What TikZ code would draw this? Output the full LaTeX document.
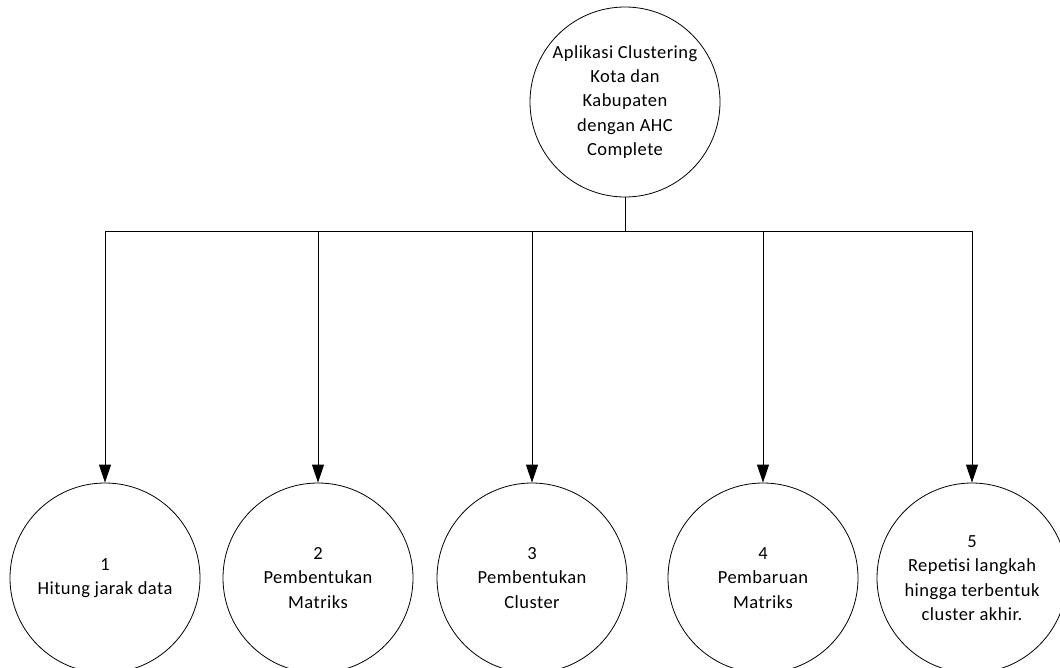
\documentclass[tikz,border=0pt]{standalone}
\usepackage{fontspec}
\setmainfont{Carlito}[LetterSpace=2.5]
\usetikzlibrary{arrows.meta}
\begin{document}
\begin{tikzpicture}[x=1pt,y=-1pt,
  proc/.style={draw, circle, minimum size=190pt, inner sep=0pt, line width=0.8pt,
    align=center, font=\fontsize{18.5}{24.3}\selectfont},
  link/.style={line width=0.9pt},
  arr/.style={link, -{Triangle[length=18pt,width=12pt]}}]
\useasboundingbox (0,0) rectangle (1060,667);
\clip (0,0) rectangle (1060,667);
\node[proc] (top) at (625,102) {Aplikasi Clustering\\Kota dan\\Kabupaten\\dengan AHC\\Complete};
\node[proc] (p1) at (105,578) {1\\Hitung jarak data};
\node[proc] (p2) at (318,578) {2\\Pembentukan\\Matriks};
\node[proc] (p3) at (532,578) {3\\Pembentukan\\Cluster};
\node[proc] (p4) at (763,578) {4\\Pembaruan\\Matriks};
\node[proc] (p5) at (972,578) {5\\Repetisi langkah\\hingga terbentuk\\cluster akhir.};
\coordinate (bus) at (625,231);
\draw[link] (top.south) -- (bus);
\foreach \n in {p1,p2,p3,p4,p5}
  \draw[arr] (bus) -| (\n.north);
\end{tikzpicture}
\end{document}
